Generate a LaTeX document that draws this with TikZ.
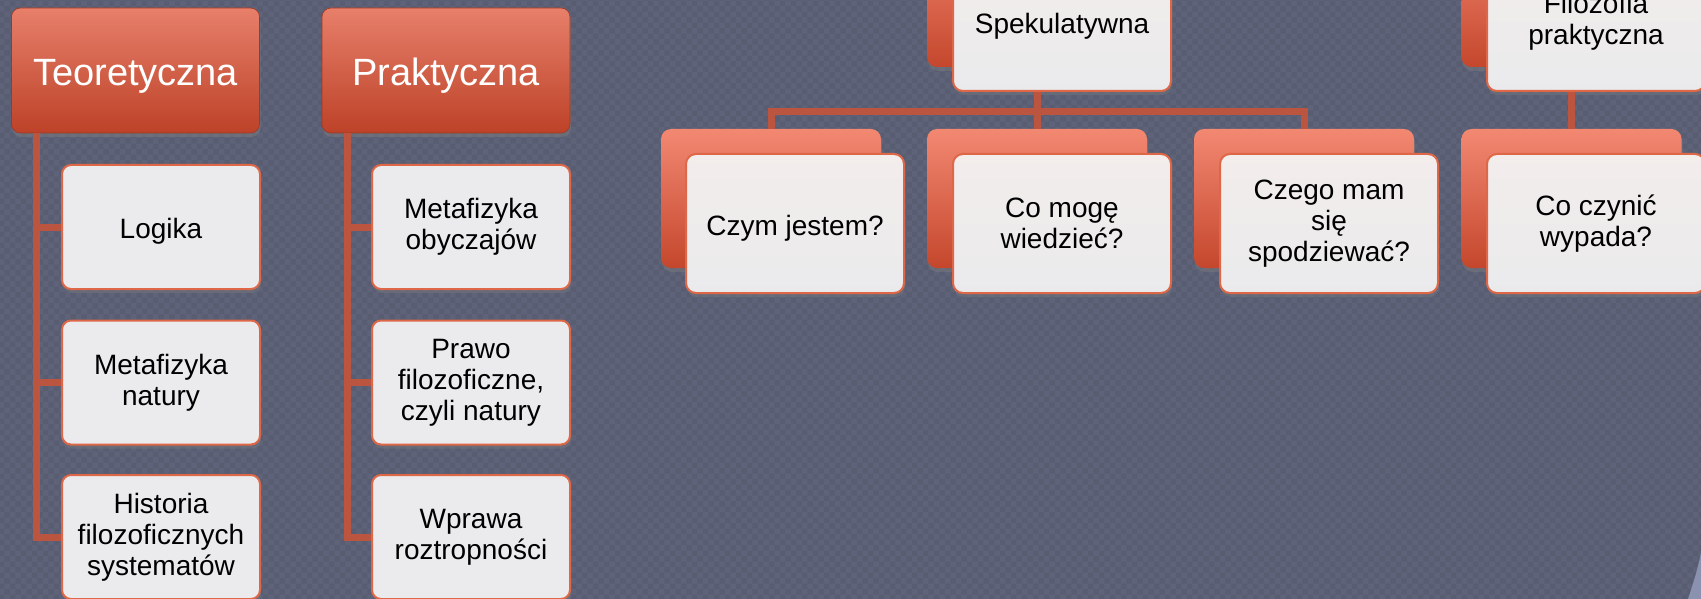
\documentclass[tikz,border=0pt]{standalone}
\usepackage{fontspec}
\setmainfont{Liberation Sans}
\usetikzlibrary{shadows,patterns,calc}
\definecolor{slate}{HTML}{5E6379}
\definecolor{arcblue}{HTML}{8A92B0}
\definecolor{headtop}{HTML}{E77F6A}
\definecolor{headbot}{HTML}{BD4228}
\definecolor{backtop}{HTML}{F38872}
\definecolor{backbot}{HTML}{C4472C}
\definecolor{leaffill}{HTML}{EBEBED}
\definecolor{fronttop}{HTML}{F3EDEC}
\definecolor{frontbot}{HTML}{EAEAEC}
\definecolor{edge}{HTML}{DE6747}
\definecolor{connred}{HTML}{BC5540}

\begin{document}
\begin{tikzpicture}[x=1pt,y=-1pt,
  head/.style={rectangle,rounded corners=9pt,minimum width=248pt,minimum height=125pt,
    inner sep=0pt,top color=headtop,bottom color=headbot,draw=headbot!85!black,line width=.6pt,
    text=white,font=\fontsize{38}{44}\selectfont,
    execute at begin node={\rule{0pt}{37pt}},
    drop shadow={shadow xshift=1pt,shadow yshift=-4pt,opacity=.45}},
  leaf/.style={rectangle,rounded corners=9pt,minimum width=198pt,minimum height=124pt,
    inner sep=0pt,fill=leaffill,draw=edge,line width=2pt,align=center,
    font=\fontsize{28}{31}\selectfont,
    execute at begin node={\rule{0pt}{29pt}},
    drop shadow={shadow xshift=1pt,shadow yshift=-4pt,opacity=.35}},
  backbox/.style={rectangle,rounded corners=10pt,minimum width=220pt,minimum height=139pt,
    inner sep=0pt,top color=backtop,bottom color=backbot,
    drop shadow={shadow xshift=1pt,shadow yshift=-4pt,opacity=.4}},
  frontbox/.style={rectangle,rounded corners=10pt,minimum width=218pt,minimum height=139pt,
    inner sep=0pt,top color=fronttop,bottom color=frontbot,draw=edge,line width=2pt,
    align=center,font=\fontsize{28}{31}\selectfont,
    execute at begin node={\rule{0pt}{29pt}},
    drop shadow={shadow xshift=1pt,shadow yshift=-4pt,opacity=.35}},
  conn/.style={draw=connred,line width=7pt}]
  \useasboundingbox (0,0) rectangle (1701,599);
  \clip (0,0) rectangle (1701,599);
  \fill[slate] (0,0) rectangle (1701,599);
  \fill[pattern=checkerboard,pattern color=black,opacity=.05] (0,0) rectangle (1701,599);
  \fill[arcblue] (1701,553) .. controls (1697,572) and (1692,587) .. (1688,599) -- (1701,599) -- cycle;

  % left columns
  \node[head] (teo) at (135.5,70.5) {Teoretyczna};
  \node[head] (prak) at (446,70.5) {Praktyczna};
  \coordinate (teoline) at ($(teo.south west)+(25.5,0)$);
  \coordinate (prakline) at ($(prak.south west)+(25.5,0)$);
  \node[leaf] (logika) at (161,227) {Logika};
  \node[leaf] (metnat) at (161,382.5) {Metafizyka\\natury};
  \node[leaf] (historia) at (161,537) {Historia\\filozoficznych\\systematów};
  \node[leaf] (metoby) at (471,227) {Metafizyka\\obyczajów};
  \node[leaf] (prawo) at (471,382.5) {Prawo\\filozoficzne,\\czyli natury};
  \node[leaf] (wprawa) at (471,537) {Wprawa\\roztropności};
  \draw[conn] (teoline) |- (logika.west);
  \draw[conn] (teoline) |- (metnat.west);
  \draw[conn] (teoline) |- (historia.west);
  \draw[conn] (prakline) |- (metoby.west);
  \draw[conn] (prakline) |- (prawo.west);
  \draw[conn] (prakline) |- (wprawa.west);

  % right part
  \node[backbox] (spekb) at (1037,-2.5) {};
  \node[frontbox] (spekf) at (1062,21.5) {Spekulatywna};
  \node[backbox] (filb) at (1571.5,-2.5) {};
  \node[frontbox] (filf) at (1596,21.5) {Filozofia\\praktyczna};

  \node[backbox] (czymb) at (771,198.5) {};
  \node[backbox] (mogeb) at (1037,198.5) {};
  \node[backbox] (czegob) at (1304,198.5) {};
  \node[backbox] (czynb) at (1571.5,198.5) {};

  \coordinate (bar) at ($(spekb.south |- spekf.south)+(0,20)$);
  \draw[conn] (spekb.south |- spekf.south) -- (mogeb.north);
  \draw[conn] (czymb.north) |- (bar);
  \draw[conn] (czegob.north) |- (bar);
  \draw[conn] (filb.south |- filf.south) -- (czynb.north);

  \node[frontbox] (czymf) at (795,223.5) {Czym jestem?};
  \node[frontbox] (mogef) at (1062,223.5) {Co mogę\\wiedzieć?};
  \node[frontbox] (czegof) at (1329,223.5) {Czego mam\\się\\spodziewać?};
  \node[frontbox] (czynf) at (1596,223.5) {Co czynić\\wypada?};
\end{tikzpicture}
\end{document}
